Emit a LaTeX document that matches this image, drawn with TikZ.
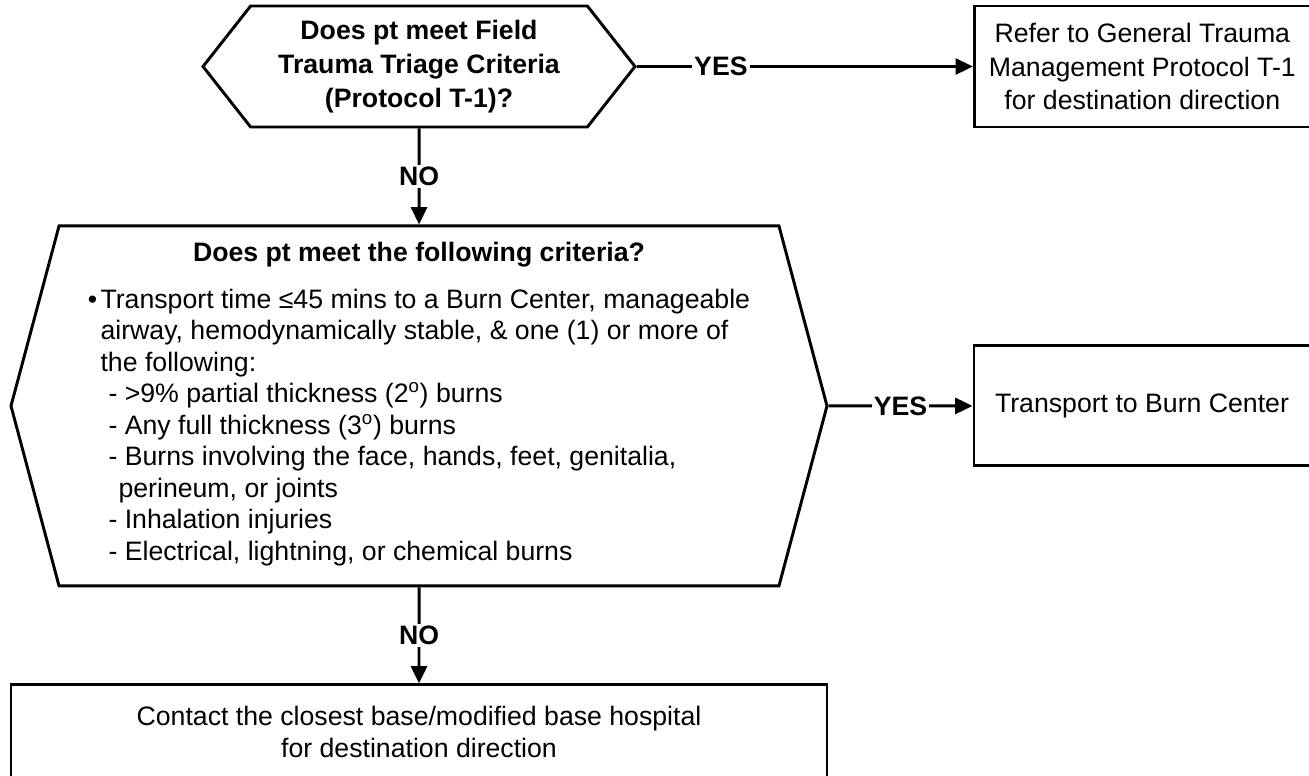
\documentclass[tikz,border=0pt]{standalone}
\usepackage{fontspec}
\setmainfont{Liberation Sans}
\usetikzlibrary{shapes.symbols, arrows.meta, positioning}

\begin{document}
\begin{tikzpicture}[node distance=72pt, >={Triangle[length=13pt,width=12pt]},
    every node/.style={font=\fontsize{20}{25}\selectfont},
    decision/.style={draw, line width=2.2pt, signal, signal to=west and east, align=center, inner sep=0pt},
    box/.style={draw, line width=2.2pt, rectangle, align=center, minimum width=252pt, minimum height=90.75pt},
    flow/.style={->, line width=2.2pt},
    answer/.style={fill=white, inner sep=1.5pt, font=\fontsize{20}{24}\selectfont\bfseries}]

  \useasboundingbox (-314.25pt,49.875pt) rectangle (667.5pt,-531.375pt);

  \node [decision, signal pointer angle=103.6, minimum width=324pt, minimum height=90.75pt, font=\fontsize{20}{25.5}\selectfont\bfseries] (field) {Does pt meet Field\\Trauma Triage Criteria\\(Protocol T-1)?};
  \node [box, right=252pt of field] (general) {Refer to General Trauma\\Management Protocol T-1\\for destination direction};

  \node [decision, signal pointer angle=150.1, minimum width=612pt, minimum height=270pt, below=72pt of field, font=\fontsize{20}{23.6}\selectfont] (burn) {\textbf{Does pt meet the following criteria?}\\[11.6pt]
    \begin{tabular}[t]{@{}l@{\hspace{2.5pt}}l@{}}
      \textbullet & Transport time ≤45 mins to a Burn Center, manageable\\
      & airway, hemodynamically stable, \& one (1) or more of\\
      & the following:\\
      & \hspace{6pt}- >9\% partial thickness (2\textsuperscript{o}) burns\\
      & \hspace{6pt}- Any full thickness (3\textsuperscript{o}) burns\\
      & \hspace{6pt}- Burns involving the face, hands, feet, genitalia,\\
      & \hspace{13.5pt}perineum, or joints\\
      & \hspace{6pt}- Inhalation injuries\\
      & \hspace{6pt}- Electrical, lightning, or chemical burns
    \end{tabular}};
  \node [box, minimum height=90pt, right=108pt of burn] (center) {Transport to Burn Center};

  \node [box, minimum width=612pt, minimum height=70.5pt, below=72pt of burn, font=\fontsize{20}{24}\selectfont] (contact) {Contact the closest base/modified base hospital\\for destination direction};

  \draw [flow] (field) -- node [answer, pos=0.25] {YES} (general);
  \draw [flow] (field) -- node [answer] {NO} (burn);
  \draw [flow] (burn) -- node [answer] {YES} (center);
  \draw [flow] (burn) -- node [answer] {NO} (contact);
\end{tikzpicture}
\end{document}
